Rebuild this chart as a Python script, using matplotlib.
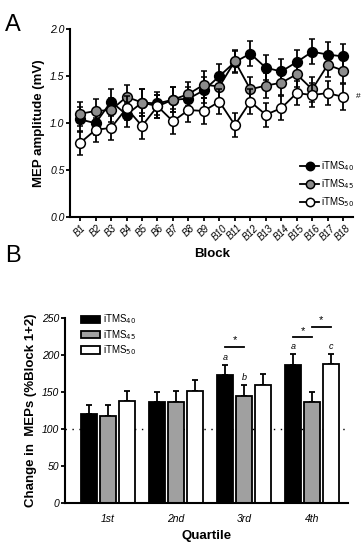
import numpy as np
import matplotlib
matplotlib.use("Agg")
import matplotlib.pyplot as plt
from matplotlib.patches import Patch
from matplotlib.lines import Line2D

plt.rcParams['font.family'] = ['Liberation Sans', 'DejaVu Sans']

# panel A: MEP amplitude per block
blocks = ["B%d" % i for i in range(1, 19)]
itms40 = [1.04, 1.00, 1.23, 1.09, 1.22, 1.21, 1.25, 1.26, 1.35, 1.50,
          1.65, 1.74, 1.59, 1.55, 1.65, 1.76, 1.73, 1.71]
itms45 = [1.10, 1.13, 1.14, 1.28, 1.22, 1.18, 1.25, 1.31, 1.41, 1.39,
          1.66, 1.36, 1.40, 1.43, 1.52, 1.36, 1.62, 1.56]
itms50 = [0.79, 0.93, 0.95, 1.16, 0.97, 1.18, 1.02, 1.14, 1.13, 1.23,
          0.98, 1.23, 1.09, 1.16, 1.32, 1.30, 1.32, 1.28]
err40 = [0.13, 0.13, 0.13, 0.13, 0.14, 0.12, 0.13, 0.13, 0.14, 0.13,
         0.12, 0.13, 0.13, 0.13, 0.13, 0.13, 0.13, 0.13]
err45 = [0.13, 0.13, 0.13, 0.13, 0.14, 0.12, 0.13, 0.13, 0.14, 0.13,
         0.12, 0.13, 0.13, 0.13, 0.13, 0.13, 0.13, 0.13]
err50 = [0.13, 0.13, 0.13, 0.13, 0.14, 0.12, 0.13, 0.13, 0.14, 0.13,
         0.13, 0.13, 0.13, 0.13, 0.13, 0.13, 0.13, 0.14]

# panel B: change in MEPs per quartile
quartiles = ["1st", "2nd", "3rd", "4th"]
chg40 = [120, 136, 173, 187]
chg45 = [118, 137, 145, 136]
chg50 = [138, 152, 160, 188]
sem40 = [13, 14, 14, 14]
sem45 = [14, 14, 14, 14]
sem50 = [14, 14, 14, 14]

labels = ["iTMS$_{40}$", "iTMS$_{45}$", "iTMS$_{50}$"]
fills = ["black", "#8c8c8c", "white"]
bar_fills = ["black", "#a0a0a0", "white"]

fig = plt.figure(figsize=(3.63, 5.5), dpi=100)

# ---------- A ----------
ax = fig.add_axes([0.193, 0.605, 0.78, 0.342])
x = np.arange(1, 19)
series = [(itms50, err50), (itms45, err45), (itms40, err40)]
order = [2, 1, 0]
for (vals, err), k in zip(series, order):
    ax.errorbar(x, vals, yerr=err, color="black", lw=1.3, capsize=2,
                elinewidth=1.3, capthick=1.3, marker="o", ms=7,
                mfc=fills[k], mec="black", mew=1.1, zorder=3 + k)
ax.set_xlim(0.35, 18.65)
ax.set_ylim(0, 2.0)
ax.set_yticks([0.0, 0.5, 1.0, 1.5, 2.0])
ax.set_yticklabels(["0.0", "0.5", "1.0", "1.5", "2.0"], fontstyle="italic", fontsize=7.5)
ax.set_xticks(x)
ax.set_xticklabels(blocks, rotation=45, fontstyle="italic", fontsize=7, ha="center")
for s in ["top", "right"]:
    ax.spines[s].set_visible(False)
for s in ["left", "bottom"]:
    ax.spines[s].set_linewidth(1.5)
ax.tick_params(width=1.3, length=3, pad=1)
ax.set_ylabel("MEP amplitude (mV)", fontweight="bold", fontsize=9.5, labelpad=4)
ax.set_xlabel("Block", fontweight="bold", fontsize=9.5, labelpad=4)
ax.text(18.85, itms50[-1], "#", fontsize=6, va="center", ha="left")
leg_lines = [Line2D([], [], color="black", lw=1.3, marker="o", ms=6,
                    mfc=fills[k], mec="black", mew=1.1) for k in range(3)]
ax.legend(leg_lines, labels, loc="center right", frameon=False, fontsize=7,
          handlelength=1.9, labelspacing=0.45, bbox_to_anchor=(1.02, 0.175),
          handletextpad=0.2, borderpad=0)
fig.text(0.015, 0.955, "A", fontsize=17, va="center")

# ---------- B ----------
bx = fig.add_axes([0.179, 0.0855, 0.78, 0.336])
q = np.arange(4)
w = 0.235
step = 0.275
handles = []
for k, (vals, sem) in enumerate([(chg40, sem40), (chg45, sem45), (chg50, sem50)]):
    pos = q + (k - 1) * step
    bx.bar(pos, vals, width=w, color=bar_fills[k], edgecolor="black", lw=1.3, zorder=2)
    bx.errorbar(pos, vals, yerr=[np.zeros(4), sem], fmt="none", ecolor="black",
                elinewidth=1.3, capsize=2.5, capthick=1.3, zorder=1)
    handles.append(Patch(facecolor=bar_fills[k], edgecolor="black", lw=1.3))
bx.axhline(100, color="black", ls=(0, (1, 4)), lw=1.0, zorder=0)
bx.set_xlim(-0.63, 3.53)
bx.set_ylim(0, 250)
bx.set_yticks([0, 50, 100, 150, 200, 250])
bx.set_yticklabels(["0", "50", "100", "150", "200", "250"], fontstyle="italic", fontsize=7.5)
bx.set_xticks(q)
bx.set_xticklabels(quartiles, fontstyle="italic", fontsize=7.5)
bx.tick_params(axis="x", length=0, pad=8)
bx.tick_params(axis="y", width=1.3, length=3, pad=1)
for s in ["top", "right"]:
    bx.spines[s].set_visible(False)
for s in ["left", "bottom"]:
    bx.spines[s].set_linewidth(1.5)
bx.set_ylabel("Change in  MEPs (%Block 1+2)", fontweight="bold", fontsize=9.5, labelpad=4)
bx.set_xlabel("Quartile", fontweight="bold", fontsize=9.5, labelpad=4)
bx.legend(handles, labels, loc="center left", frameon=False, fontsize=7,
          handlelength=1.9, handleheight=0.8, labelspacing=0.15,
          bbox_to_anchor=(0.04, 0.91), handletextpad=0.3, borderpad=0)

# significance bars and letters
def sig(x0, x1, y):
    bx.plot([x0, x1], [y, y], color="black", lw=1.3)
    bx.text((x0 + x1) / 2, y + 2, "*", ha="center", va="bottom", fontsize=8)

sig(2 - step, 2, 211)
sig(3 - step, 3, 224)
sig(3, 3 + step, 238)
bx.text(2 - step, 194, "a", ha="center", fontsize=6.5, fontstyle="italic")
bx.text(2, 166, "b", ha="center", fontsize=6.5, fontstyle="italic")
bx.text(3 - step, 208, "a", ha="center", fontsize=6.5, fontstyle="italic")
bx.text(3 + step, 208, "c", ha="center", fontsize=6.5, fontstyle="italic")
fig.text(0.015, 0.535, "B", fontsize=17, va="center")

fig.savefig("out.png", dpi=100)
